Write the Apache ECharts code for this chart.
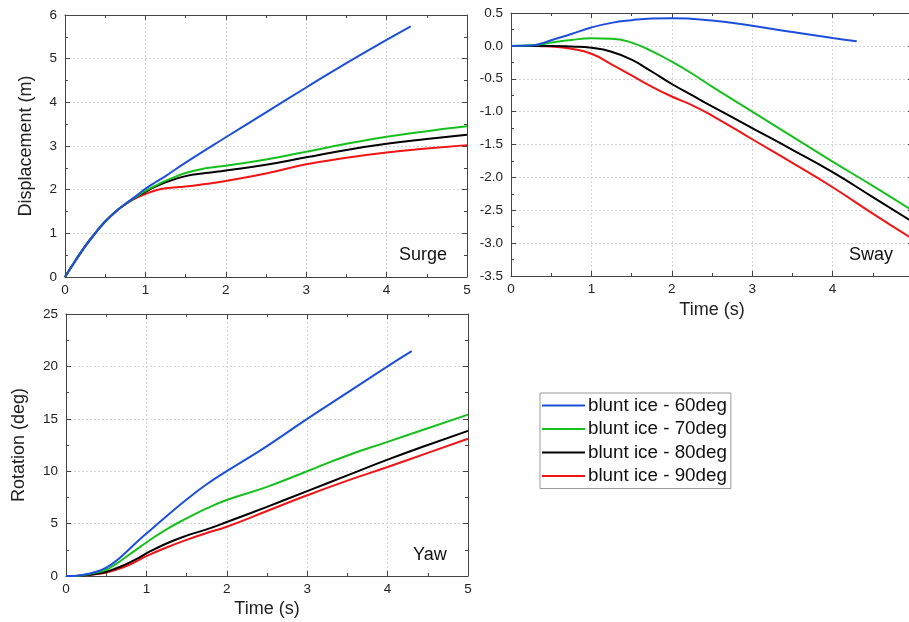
<!DOCTYPE html>
<html><head><meta charset="utf-8">
<script src="https://cdn.jsdelivr.net/npm/echarts@6/dist/echarts.min.js"></script>
<style>html,body{margin:0;padding:0;background:#fff}#c{width:909px;height:622px}</style>
</head><body><div id="c"></div>
<script>
const seriesNames = ['blunt ice - 60deg','blunt ice - 70deg','blunt ice - 80deg','blunt ice - 90deg'];
const colors = ['#1c4fdc','#16c01c','#000000','#f01414'];

// Surge (m)
const tSurge = [0,0.125,0.25,0.375,0.5,0.625,0.75,0.875,1,1.125,1.25,1.5,1.75,2,2.5,3,3.5,4,4.5,5];
const tSurge60 = [0,0.125,0.25,0.375,0.5,0.625,0.75,0.875,1,1.125,1.25,1.5,2,2.5,3,3.5,4,4.3];
const surge60 = [0,0.36,0.70,1.0,1.27,1.49,1.67,1.84,2.02,2.17,2.31,2.62,3.2,3.77,4.34,4.9,5.43,5.74];
const surge70 = [0,0.36,0.70,1.0,1.27,1.49,1.67,1.82,1.97,2.09,2.2,2.38,2.49,2.55,2.69,2.87,3.05,3.21,3.34,3.45];
const surge80 = [0,0.36,0.70,1.0,1.27,1.49,1.67,1.82,1.95,2.07,2.17,2.31,2.38,2.44,2.57,2.74,2.91,3.05,3.16,3.26];
const surge90 = [0,0.36,0.70,1.0,1.27,1.49,1.66,1.80,1.90,1.98,2.03,2.07,2.13,2.2,2.37,2.58,2.73,2.85,2.94,3.02];

// Sway (m)
const tSway = [0,0.25,0.375,0.5,0.75,1,1.25,1.5,1.75,2,2.25,2.5,3,3.5,4,4.5,5];
const tSway60 = [0,0.25,0.375,0.5,0.75,1,1.25,1.5,1.75,2,2.5,3,3.5,4,4.3];
const sway60 = [0,0.005,0.035,0.085,0.18,0.28,0.35,0.39,0.415,0.42,0.385,0.305,0.21,0.12,0.07];
const sway70 = [0,0.01,0.025,0.05,0.09,0.115,0.11,0.05,-0.08,-0.24,-0.42,-0.62,-1.0,-1.38,-1.76,-2.13,-2.51];
const sway80 = [0,0,0,0,-0.01,-0.03,-0.09,-0.21,-0.39,-0.58,-0.75,-0.92,-1.25,-1.58,-1.92,-2.3,-2.68];
const sway90 = [0,0,-0.005,-0.01,-0.045,-0.12,-0.28,-0.45,-0.62,-0.77,-0.9,-1.06,-1.42,-1.78,-2.15,-2.55,-2.94];

// Yaw (deg)
const tYaw = [0,0.125,0.25,0.375,0.5,0.625,0.75,0.875,1,1.25,1.5,1.75,2,2.5,3,3.5,4,4.5,5];
const tYaw60 = [0,0.125,0.25,0.375,0.5,0.625,0.75,0.875,1,1.25,1.5,1.75,2,2.5,3,3.5,4,4.3];
const yaw60 = [0,0.02,0.17,0.4,0.8,1.45,2.3,3.2,4.05,5.7,7.3,8.75,10.0,12.4,15.0,17.5,20.0,21.45];
const yaw70 = [0,0.01,0.13,0.32,0.6,1.15,1.84,2.52,3.2,4.45,5.5,6.45,7.25,8.5,10.0,11.5,12.8,14.1,15.4];
const yaw80 = [0,0.01,0.09,0.22,0.41,0.74,1.14,1.6,2.15,3.1,3.85,4.45,5.15,6.6,8.1,9.6,11.1,12.5,13.85];
const yaw90 = [0,0.01,0.07,0.18,0.32,0.6,0.95,1.4,1.9,2.72,3.45,4.1,4.7,6.2,7.7,9.1,10.4,11.75,13.1];

const xTicks = {min:0, max:5, interval:1};
const surgeY = {min:0, max:6, interval:1};
const swayY = {min:-3.5, max:0.5, interval:0.5};
const yawY = {min:0, max:25, interval:5};

const FONT = '"Liberation Sans", Arial, sans-serif';
const AX = '#444';

function pairs(t, v){ return t.map((x,i)=>[x, v[i]]); }

function mkAxes(gi, range, isX, opts){
  const base = {
    type:'value', gridIndex:gi, min:range.min, max:range.max, interval:range.interval,
    axisLine:{show:true, onZero:false, lineStyle:{color:AX, width:1}},
    axisTick:{show:true, inside:true, length:5, lineStyle:{color:AX}},
    minorTick:{show:true, splitNumber:2, length:3, lineStyle:{color:AX}},
    splitLine:{show:false},
  };
  const main = Object.assign({}, base, {
    position: isX ? 'bottom' : 'left',
    axisLabel:{show:true, color:'#222', fontSize:13.5, fontFamily:FONT, margin: isX?6:8,
      formatter: opts.fmt || (v=>String(v))},
    splitLine:{show:true, lineStyle:{color:'#d4d4d4', type:[2,2], width:1}},
    name: opts.name || '', nameLocation:'middle', nameGap: opts.nameGap || 30,
    nameTextStyle:{fontSize:18, color:'#222', fontFamily:FONT},
  });
  const mirror = Object.assign({}, base, {
    position: isX ? 'top' : 'right',
    axisLabel:{show:false},
  });
  return [main, mirror];
}

const grids = [
  {left:65, top:15, width:402, height:262, outerBoundsMode:'none'},
  {left:511, top:13, width:402, height:263, outerBoundsMode:'none'},
  {left:66, top:314, width:402, height:262, outerBoundsMode:'none'},
];

const xAxes = [].concat(
  mkAxes(0, xTicks, true, {}),
  mkAxes(1, xTicks, true, {name:'Time (s)', nameGap:25}),
  mkAxes(2, xTicks, true, {name:'Time (s)', nameGap:24})
);
const yAxes = [].concat(
  mkAxes(0, surgeY, false, {name:'Displacement (m)', nameGap:30}),
  mkAxes(1, swayY, false, {fmt:v=>v.toFixed(1)}),
  mkAxes(2, yawY, false, {name:'Rotation (deg)', nameGap:38})
);

const plotData = [
  [pairs(tSurge60,surge60), pairs(tSurge,surge70), pairs(tSurge,surge80), pairs(tSurge,surge90)],
  [pairs(tSway60,sway60), pairs(tSway,sway70), pairs(tSway,sway80), pairs(tSway,sway90)],
  [pairs(tYaw60,yaw60), pairs(tYaw,yaw70), pairs(tYaw,yaw80), pairs(tYaw,yaw90)],
];

const series = [];
plotData.forEach((group, gi)=>{
  group.forEach((d, si)=>{
    series.push({
      type:'line', name:seriesNames[si], xAxisIndex:gi*2, yAxisIndex:gi*2,
      data:d, smooth:0.5, symbol:'none', showSymbol:false,
      lineStyle:{color:colors[si], width:2}, itemStyle:{color:colors[si]},
      z: 10 - si, animation:false
    });
  });
});

const chart = echarts.init(document.getElementById('c'), null, {renderer:'canvas'});
chart.setOption({
  animation:false,
  backgroundColor:'#fff',
  grid: grids,
  xAxis: xAxes,
  yAxis: yAxes,
  series: series,
  legend:{
    data: seriesNames, orient:'vertical', left:540, top:393,
    icon:'rect', itemWidth:43, itemHeight:2, itemGap:4.5,
    borderColor:'#999', borderWidth:1, padding:[3,4,3,2],
    textStyle:{fontSize:18.8, color:'#111', fontFamily:FONT, padding:[0,0,0,-2]},
    selectedMode:false
  },
  graphic:[
    {type:'text', left:399, top:246, style:{text:'Surge', fontSize:18, fontFamily:FONT, fill:'#111'}},
    {type:'text', left:849, top:246, style:{text:'Sway', fontSize:18, fontFamily:FONT, fill:'#111'}},
    {type:'text', left:413, top:546, style:{text:'Yaw', fontSize:18, fontFamily:FONT, fill:'#111'}},
  ]
});
</script></body></html>
